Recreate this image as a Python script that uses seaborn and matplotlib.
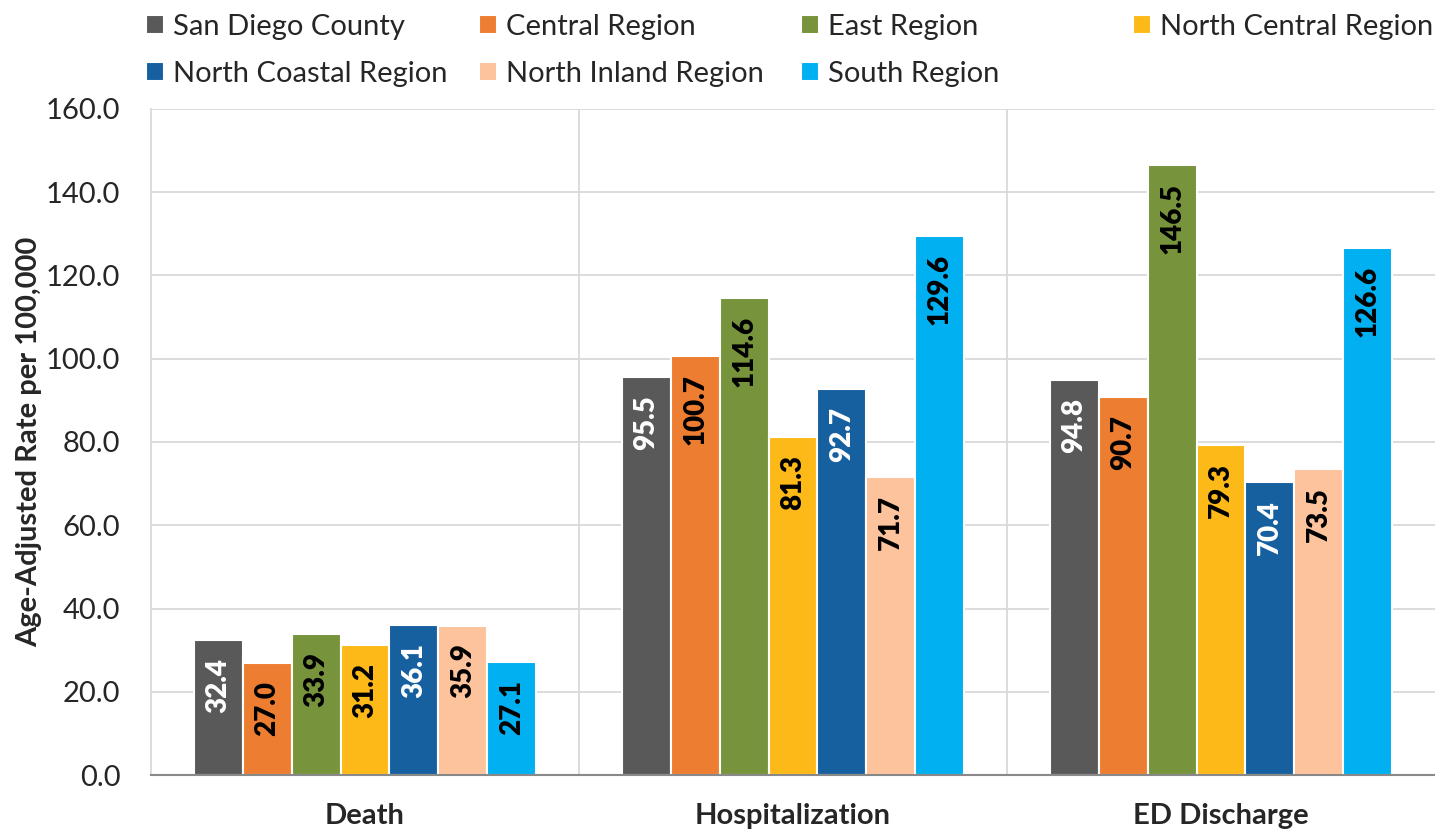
import matplotlib
matplotlib.use("Agg")
import matplotlib.pyplot as plt
import pandas as pd
import seaborn as sns

# 数据
measures = ["Death", "Hospitalization", "ED Discharge"]
regions = ["San Diego County", "Central Region", "East Region", "North Central Region",
           "North Coastal Region", "North Inland Region", "South Region"]
san_diego = [32.4, 95.5, 94.8]
central = [27.0, 100.7, 90.7]
east = [33.9, 114.6, 146.5]
north_central = [31.2, 81.3, 79.3]
north_coastal = [36.1, 92.7, 70.4]
north_inland = [35.9, 71.7, 73.5]
south = [27.1, 129.6, 126.6]

colors = ["#595959", "#ED7D31", "#77933C", "#FDB918", "#1660A0", "#FCC39C", "#00B0F0"]
label_colors = ["white", "black", "black", "black", "white", "black", "black"]

series = [san_diego, central, east, north_central, north_coastal, north_inland, south]
rows = []
for region, vals in zip(regions, series):
    for m, v in zip(measures, vals):
        rows.append({"measure": m, "region": region, "rate": v})
df = pd.DataFrame(rows)

sns.set_theme(style="white")
plt.rcParams['font.family'] = ['Lato', 'DejaVu Sans']

fig = plt.figure(figsize=(14.35, 8.31), dpi=100)
ax = fig.add_axes([151 / 1435, 1 - 775 / 831, 1 - 151 / 1435, (775 - 109) / 831])

sns.barplot(data=df, x="measure", y="rate", hue="region", order=measures,
            hue_order=regions, palette=colors, width=0.8, edgecolor="white",
            linewidth=1.5, saturation=1, ax=ax)

# 柱内数值标签
for container, tc in zip(ax.containers, label_colors):
    for bar, val in zip(container.patches, container.datavalues):
        ax.annotate(f"{val:.1f}", (bar.get_x() + bar.get_width() / 2, bar.get_height()),
                    xytext=(0, -13), textcoords="offset points", ha="center", va="top",
                    rotation=90, fontsize=20, fontweight="heavy", color=tc)

# 坐标轴
ax.set_ylim(0, 160)
ax.set_xlim(-0.5, 2.5)
ax.set_yticks(range(0, 161, 20))
ax.set_yticklabels([f"{t:.1f}" for t in range(0, 161, 20)])
ax.tick_params(axis="y", length=0, pad=22, labelsize=21)
ax.tick_params(axis="x", length=0, pad=20, labelsize=21)
for lbl in ax.get_xticklabels():
    lbl.set_fontweight("bold")
ax.set_xlabel("")
ax.set_ylabel("Age-Adjusted Rate per 100,000", fontsize=21, fontweight="bold", labelpad=3)

ax.set_axisbelow(True)
ax.yaxis.grid(True, color="#D9D9D9", linewidth=1.3)
for xs in [0.5, 1.5]:
    ax.axvline(xs, color="#D9D9D9", linewidth=1.3, zorder=0)
for side in ["top", "right"]:
    ax.spines[side].set_visible(False)
ax.spines["left"].set_color("#D9D9D9")
ax.spines["left"].set_linewidth(1.3)
ax.spines["bottom"].set_color("#898989")
ax.spines["bottom"].set_linewidth(1.5)

# 图例: 按行排列, 每列单独放置
handles, labels = ax.get_legend_handles_labels()
ax.get_legend().remove()
col_x = [146, 479, 801, 1133]
for c in range(4):
    idx = [i for i in (c, c + 4) if i < len(handles)]
    fig.legend([handles[i] for i in idx], [labels[i] for i in idx],
               loc="upper left", bbox_to_anchor=(col_x[c] / 1435, 1 - 14 / 831),
               frameon=False, fontsize=21, handlelength=0.62, handleheight=0.62,
               handletextpad=0.3, labelspacing=0.72, borderpad=0, borderaxespad=0)

fig.savefig("out.png", dpi=100)
